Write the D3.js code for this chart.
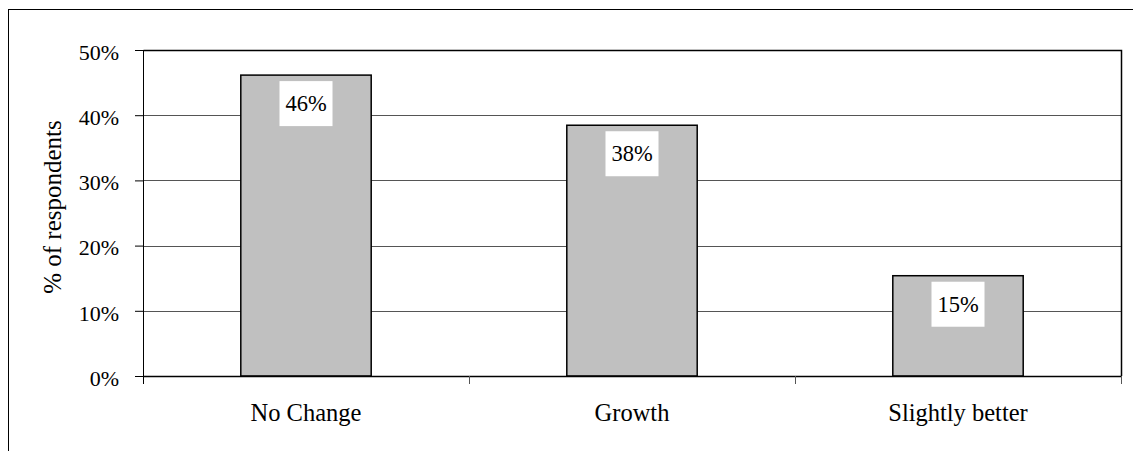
<!DOCTYPE html>
<html>
<head>
<meta charset="utf-8">
<script src="https://cdn.jsdelivr.net/npm/d3@7"></script>
<style>
  body { margin: 0; background: #fff; }
  svg text { font-family: "Times New Roman", "Liberation Serif", serif; fill: #000; }
</style>
</head>
<body>
<svg id="chart" width="1133" height="451"></svg>
<script>
// bar chart data
const categories = ["No Change", "Growth", "Slightly better"];
const shares = [0.4615, 0.3846, 0.1538];
const shareLabels = ["46%", "38%", "15%"];
const yTicks = [0, 0.1, 0.2, 0.3, 0.4, 0.5];

const serif = "'Times New Roman', 'Liberation Serif', serif";

const margin = { top: 50, right: 12, bottom: 75, left: 143 },
      width = 1133 - margin.left - margin.right,
      height = 451 - margin.top - margin.bottom;

const svg = d3.select("#chart");

// outer chart frame (only left and top visible)
svg.append("rect")
   .attr("x", 8.5).attr("y", 9.5)
   .attr("width", 1300).attr("height", 600)
   .attr("fill", "none")
   .attr("stroke", "#000");

const g = svg.append("g")
             .attr("transform", `translate(${margin.left}, ${margin.top})`);

const x = d3.scaleBand()
            .domain(categories)
            .range([0, width])
            .paddingInner(0.6)
            .paddingOuter(0.3);

const band = d3.scaleBand().domain(categories).range([0, width]);

const y = d3.scaleLinear()
            .domain([0, 0.5])
            .range([height, 0]);

// gridlines
g.append("g")
 .selectAll("line")
 .data(yTicks.slice(1, -1))
 .join("line")
 .attr("x1", 0).attr("x2", width)
 .attr("y1", d => Math.round(y(d)) + 0.5)
 .attr("y2", d => Math.round(y(d)) + 0.5)
 .attr("stroke", "#555");

// plot frame top/right
g.append("path")
 .attr("d", `M0.5,0.5H${width + 0.5}V${height}`)
 .attr("fill", "none")
 .attr("stroke", "#000")
 .attr("stroke-width", 1.5);

// bars
g.append("g")
 .selectAll("rect")
 .data(shares)
 .join("rect")
 .attr("x", (d, i) => x(categories[i]))
 .attr("y", d => y(d))
 .attr("width", x.bandwidth())
 .attr("height", d => height - y(d))
 .attr("fill", "#c0c0c0")
 .attr("stroke", "#000")
 .attr("stroke-width", 1.5);

// value labels in white boxes
const labels = g.append("g")
 .selectAll("g")
 .data(shares)
 .join("g")
 .attr("transform", (d, i) => `translate(${x(categories[i]) + x.bandwidth() / 2}, ${y(d) + 6})`);

labels.append("rect")
      .attr("x", -26.5).attr("y", 0)
      .attr("width", 53).attr("height", 45)
      .attr("fill", "#fff");

labels.append("text")
      .attr("y", 30)
      .attr("text-anchor", "middle")
      .style("font-family", serif)
      .style("font-size", "22.5px")
      .text((d, i) => shareLabels[i]);

// y axis
const yAxis = g.append("g")
 .call(d3.axisLeft(y).tickValues(yTicks).tickFormat(d3.format(".0%")).tickSize(8).tickPadding(16));
yAxis.attr("font-family", serif).attr("font-size", 22);
yAxis.select(".domain").attr("stroke", "#000").attr("d", `M0.5,0V${height + 8}`);
yAxis.selectAll(".tick line").attr("stroke", "#000");
yAxis.selectAll("text")
     .attr("dy", "0.42em")
     .style("font-size", "22px")
     .style("font-family", serif);

// x axis
const xAxisGroup = g.append("g")
 .attr("transform", `translate(0, ${height})`);
xAxisGroup.append("line")
 .attr("x1", 0).attr("x2", width)
 .attr("y1", 0.5).attr("y2", 0.5)
 .attr("stroke", "#000")
 .attr("stroke-width", 1.5);
xAxisGroup.selectAll(".xtick")
 .data(categories.slice(1).concat(["end"]))
 .join("line")
 .attr("class", "xtick")
 .attr("x1", (d, i) => Math.round(band.step() * (i + 1)) + 0.5)
 .attr("x2", (d, i) => Math.round(band.step() * (i + 1)) + 0.5)
 .attr("y1", 0).attr("y2", 8)
 .attr("stroke", "#555");
xAxisGroup.selectAll(".xlabel")
 .data(categories)
 .join("text")
 .attr("class", "xlabel")
 .attr("x", d => x(d) + x.bandwidth() / 2)
 .attr("y", 45)
 .attr("text-anchor", "middle")
 .style("font-family", serif)
 .style("font-size", "24.5px")
 .text(d => d);

// y axis title
svg.append("text")
   .attr("transform", `translate(61, ${margin.top + height / 2 - 6}) rotate(-90)`)
   .attr("text-anchor", "middle")
   .style("font-family", serif)
   .style("font-size", "25px")
   .text("% of respondents");
</script>
</body>
</html>
